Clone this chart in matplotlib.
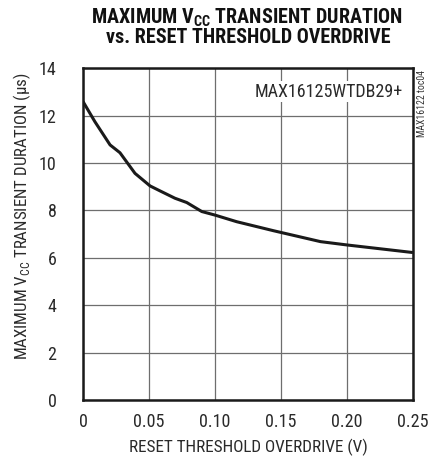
import matplotlib.pyplot as plt

# curve
overdrive = [0.0, 0.009, 0.0205, 0.028, 0.0394, 0.0508, 0.058, 0.0697, 0.0786,
             0.09, 0.10, 0.1165, 0.1444, 0.18, 0.20, 0.25]
duration = [12.59, 11.74, 10.76, 10.43, 9.56, 9.03, 8.83, 8.51, 8.33,
            7.95, 7.80, 7.52, 7.14, 6.68, 6.54, 6.22]

x_ticks = [0, 0.05, 0.10, 0.15, 0.20, 0.25]
x_labels = ['0', '0.05', '0.10', '0.15', '0.20', '0.25']
y_ticks = [0, 2, 4, 6, 8, 10, 12, 14]

font = 'Roboto Condensed'
plt.rcParams['font.family'] = [font, 'DejaVu Sans']
plt.rcParams['mathtext.fontset'] = 'custom'
plt.rcParams['mathtext.rm'] = font
plt.rcParams['mathtext.bf'] = font + ':black'

fig = plt.figure(figsize=(4.29, 4.61), dpi=100)
ax = fig.add_axes([0.1935, 0.1323, 0.769, 0.720])

ax.plot(overdrive, duration, color='#1a1a1a', lw=2.2, solid_capstyle='butt')

ax.set_xlim(0, 0.25)
ax.set_ylim(0, 14)
ax.set_xticks(x_ticks)
ax.set_xticklabels(x_labels)
ax.set_yticks(y_ticks)
ax.grid(True, color='#6e6e6e', lw=0.9)
ax.tick_params(axis='x', length=0, labelsize=13, colors='#2a2a2a', pad=9)
ax.tick_params(axis='y', length=0, labelsize=13, colors='#2a2a2a', pad=19)
for s in ax.spines.values():
    s.set_linewidth(1.8)
    s.set_color('#1a1a1a')

ax.set_xlabel('RESET THRESHOLD OVERDRIVE (V)', fontsize=12.3, color='#2a2a2a', labelpad=6)

fig.text(0.051, 0.530, r'MAXIMUM V$_{\mathrm{CC}}$ TRANSIENT DURATION (µs)', rotation=90,
         ha='center', va='center', fontsize=12.2, color='#2a2a2a')

ax.text(0.97, 0.929, 'MAX16125WTDB29+', transform=ax.transAxes, ha='right', va='center',
        fontsize=13, color='#2a2a2a', bbox=dict(facecolor='white', edgecolor='none', pad=1))

fig.text(0.983, 0.848, 'MAX16122 toc04', rotation=90, ha='center', va='top',
         fontsize=7, color='#333333')

fig.text(0.576, 0.962, r'MAXIMUM V$_{\mathbf{CC}}$ TRANSIENT DURATION', ha='center', va='center',
         fontsize=14.5, fontweight='black', color='#111111')
fig.text(0.578, 0.919, 'vs. RESET THRESHOLD OVERDRIVE', ha='center', va='center',
         fontsize=14.5, fontweight='black', color='#111111')

fig.savefig('out.png', dpi=100)
